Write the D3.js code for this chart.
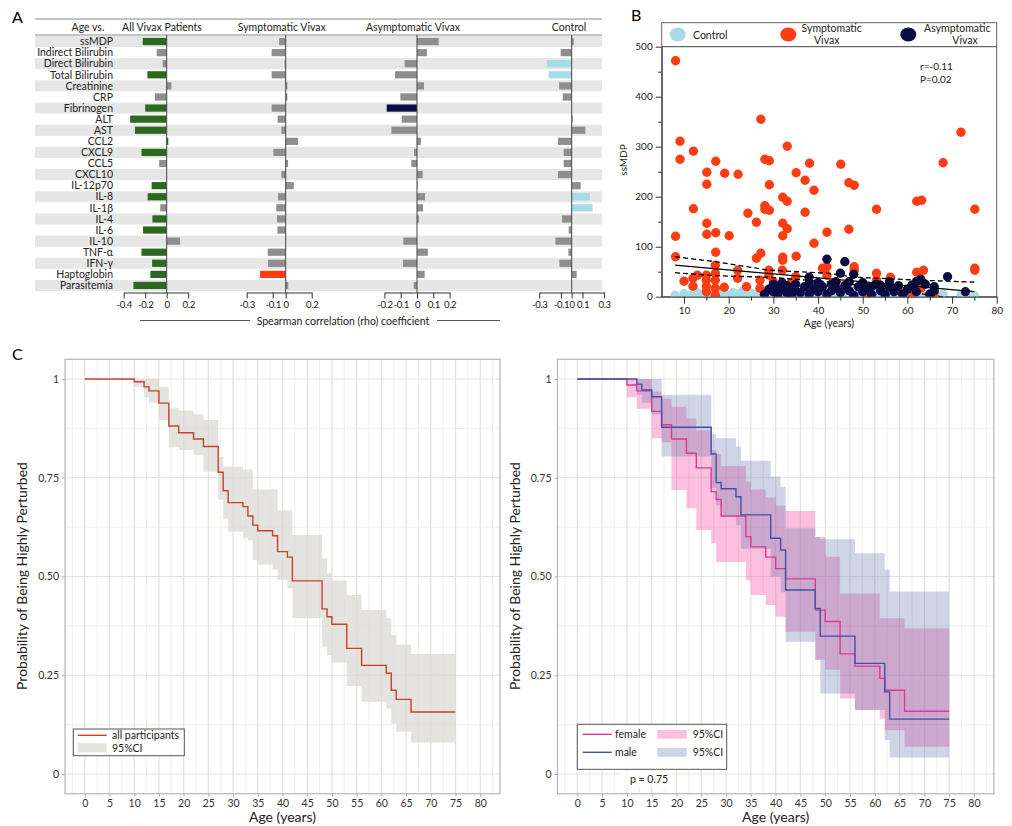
<!DOCTYPE html>
<html><head><meta charset="utf-8">
<script src="https://cdn.jsdelivr.net/npm/d3@7"></script>
<style>
body{margin:0;background:#fff;}
svg{font-family:Lato,"Open Sans",sans-serif;}
</style></head><body>
<svg id="chart" width="1012" height="826"></svg>
<script>
// ================= DATA =================
// Panel A: Spearman rho of age vs marker
const markers = ["ssMDP","Indirect Bilirubin","Direct Bilirubin","Total Bilirubin","Creatinine","CRP","Fibrinogen","ALT","AST","CCL2","CXCL9","CCL5","CXCL10","IL-12p70","IL-8","IL-1β","IL-4","IL-6","IL-10","TNF-α","IFN-γ","Haptoglobin","Parasitemia"];
const groupNames = ["All Vivax Patients","Symptomatic Vivax","Asymptomatic Vivax","Control"];
const allVivaxRho = [-0.223,-0.093,-0.037,-0.18,0.043,-0.11,-0.2,-0.34,-0.295,0.015,-0.235,-0.07,0,-0.14,-0.177,-0.06,-0.133,-0.22,0.124,-0.235,-0.136,-0.152,-0.31];
const allVivaxSig = [1,0,0,1,0,0,1,1,1,1,1,0,0,1,1,0,1,1,0,1,1,1,1];
const sympRho = [-0.051,-0.108,-0.008,-0.108,0.013,0.013,-0.108,-0.062,-0.033,0.095,-0.095,0.018,-0.033,0.062,-0.059,-0.072,-0.067,-0.064,0,-0.138,-0.136,-0.197,0.02];
const sympSig = [0,0,0,0,0,0,0,0,0,0,0,0,0,0,0,0,0,0,0,0,0,1,0];
const asympRho = [0.133,0.061,-0.076,-0.135,0.043,-0.102,-0.186,-0.094,-0.157,0.024,-0.018,-0.035,0.035,0.004,0.049,0.037,0.012,0,-0.084,0.067,-0.086,0.047,-0.02];
const asympSig = [0,0,0,0,0,0,1,0,0,0,0,0,0,0,0,0,0,0,0,0,0,0,0];
const controlRho = [0.019,-0.102,-0.23,-0.213,-0.117,-0.083,0,0.009,0.127,-0.127,-0.074,-0.074,-0.127,0.083,0.17,0.194,-0.09,-0.028,-0.151,-0.031,-0.114,0.046,0];
const controlSig = [0,0,1,1,0,0,0,0,0,0,0,0,0,0,1,1,0,0,0,0,0,0,0];
const allVivaxTicks = [-0.4,-0.2,0,0.2];
const sympTicks = [-0.3,-0.1,0,0.2];
const asympTicks = [-0.2,-0.1,0,0.1,0.2];
const controlTicks = [-0.3,-0.1,0,0.1,0.3];

// Panel B: age vs ssMDP
const controlPts = [[8,3],[10,6],[11,2],[12,5],[13,8],[14,3],[15,6],[16,2],[17,9],[18,4],[19,7],[20,3],[21,8],[22,5],[23,10],[24,3],[25,7],[26,4],[27,9],[28,5],[29,2],[30,8],[31,4],[32,10],[33,6],[34,3],[35,9],[36,5],[37,2],[38,7],[39,10],[40,4],[41,8],[42,3],[43,6],[44,9],[45,2],[46,5],[47,8],[48,3],[49,6],[50,2],[51,9],[52,4],[53,7],[54,2],[55,5],[56,8],[57,3],[58,6],[60,4],[61,7],[62,2],[63,9],[64,4],[65,6],[66,3],[68,5],[72,3],[73,6],[75,2]];
const symptomaticPts = [[8.1,472],[9.1,311],[9.1,275],[12.1,291],[12.1,176],[8.1,121],[8.1,80],[15.1,249],[15.1,225],[17.1,271],[19.1,247],[22.1,245],[15.1,147],[15.1,125],[17.1,128],[20.1,122],[17.1,89],[24.3,167],[26.2,149],[27.2,355],[28.1,275],[29.1,272],[29.1,224],[28.1,182],[28.1,175],[29.1,173],[32.1,199],[33.1,191],[33.1,301],[32.1,147],[33.1,136],[32.1,122],[35.1,248],[37.1,233],[38.1,267],[39.1,213],[37.1,169],[39.1,107],[42,129],[32.1,79],[32.1,73],[35.1,81],[26.2,77],[27.2,87],[45.1,265],[46.9,228],[48.1,223],[53.1,175],[46.9,135],[62.1,191],[63.2,193],[68,268],[72,329],[75.1,175],[75.1,57],[75.1,53],[63.6,53],[62.1,49],[48.1,60],[48.1,53],[53.1,47],[53.1,33],[56.2,39],[51,7],[61,5],[63,17],[10,31],[12,37],[12,21],[13,43],[15,43],[15,33],[15,21],[15,10],[17,63],[17,47],[17,33],[17,17],[17,3],[19,19],[22,53],[22,37],[24,20],[27,33],[27,17],[29,53],[29,43],[32,53],[35,40],[41,57],[42,43],[42,60],[30,30],[34,28],[38,22],[44,30],[46,18],[50,25],[58,12],[66,8]];
const asymptomaticPts = [[38,39],[42,75],[46,70],[45,47],[48,45],[69,40],[73,10],[63,35],[62,30],[66,20],[61,23],[56,20],[54,23],[52,20],[28,5],[29,15],[30,25],[30,10],[31,20],[31,5],[32,28],[32,15],[33,22],[33,8],[34,18],[34,3],[35,12],[35,25],[36,8],[37,20],[38,5],[38,28],[39,15],[40,10],[40,28],[41,20],[42,5],[43,25],[43,12],[44,30],[44,18],[45,8],[46,22],[47,30],[47,12],[48,3],[49,20],[50,28],[50,10],[51,18],[52,5],[53,25],[54,12],[55,5],[56,30],[57,10],[58,22],[59,5],[60,15],[62,10],[64,25],[65,5],[66,12]];
const fitAges = [8,75];
const fitVals = [63,10];
const ciAges = [8,17,29,42,48,53,63,75];
const ciUpperVals = [80,70,53,47,39,37,33,29];
const ciLowerVals = [48,42,39,30,24,19,6,-9];
const bXTicks = [10,20,30,40,50,60,70,80];
const bYTicks = [0,100,200,300,400,500];

// Panel C: Kaplan-Meier
const kmAllTimes = [0,10,12,13,15,17,19,22,24,27,28,29,32,33,34,35,38,39,41,42,48,49,50,53,56,61,62,63,66,75];
const kmAllSurv  = [1,0.993,0.98,0.97,0.939,0.881,0.864,0.848,0.829,0.764,0.717,0.687,0.677,0.653,0.63,0.616,0.603,0.563,0.549,0.489,0.418,0.398,0.379,0.318,0.275,0.255,0.212,0.189,0.157,0.157];
const kmAllUpper = [1,1,1,1,0.98,0.926,0.92,0.911,0.896,0.803,0.778,0.778,0.771,0.771,0.72,0.72,0.72,0.668,0.668,0.605,0.546,0.508,0.49,0.453,0.415,0.394,0.352,0.328,0.304,0.304];
const kmAllLower = [1,0.98,0.954,0.94,0.896,0.827,0.82,0.808,0.765,0.694,0.647,0.613,0.597,0.592,0.542,0.53,0.517,0.491,0.47,0.394,0.322,0.301,0.282,0.223,0.183,0.166,0.128,0.107,0.08,0.08];

const kmFemaleTimes = [0,10,12,15,17,19,22,24,27,28,29,34,35,38,40,42,48,50,53,56,61,62,66,75];
const kmFemaleSurv  = [1,0.985,0.97,0.918,0.884,0.848,0.812,0.775,0.715,0.695,0.653,0.601,0.575,0.549,0.52,0.494,0.415,0.386,0.304,0.273,0.242,0.212,0.159,0.159];
const kmFemaleUpper = [1,1,1,0.968,0.95,0.93,0.9,0.87,0.82,0.81,0.78,0.74,0.72,0.7,0.68,0.666,0.6,0.55,0.457,0.457,0.394,0.394,0.369,0.369];
const kmFemaleLower = [1,0.954,0.925,0.85,0.84,0.719,0.673,0.618,0.584,0.537,0.537,0.49,0.453,0.428,0.398,0.36,0.289,0.264,0.191,0.162,0.14,0.111,0.069,0.069];

const kmMaleTimes = [0,12,13,15,17,27,28,29,32,33,39,41,42,48,49,56,62,63,75];
const kmMaleSurv  = [1,0.987,0.972,0.955,0.878,0.81,0.738,0.722,0.702,0.656,0.597,0.567,0.466,0.419,0.349,0.28,0.208,0.139,0.139];
const kmMaleUpper = [1,1,1,1,0.96,0.86,0.85,0.85,0.829,0.793,0.753,0.727,0.622,0.6,0.594,0.559,0.517,0.462,0.462];
const kmMaleLower = [1,0.96,0.94,0.91,0.804,0.724,0.68,0.652,0.63,0.57,0.5,0.46,0.335,0.289,0.204,0.162,0.086,0.042,0.042];
const kmXTicks = d3.range(0,81,5);
const kmYTicks = [0,0.25,0.5,0.75,1];

// ================= DRAW =================
const svg = d3.select("#chart");
const TXT = "#222";
const FF = "Lato,'Open Sans',sans-serif";

// ---------- Panel labels
svg.append("text").attr("x",12).attr("y",23).attr("font-size",16).text("A");
svg.append("text").attr("x",631).attr("y",21).attr("font-size",16).text("B");
svg.append("text").attr("x",12).attr("y",360).attr("font-size",16).text("C");

// ---------- Panel A
const gA = svg.append("g");
const rowBand = d3.scaleBand().domain(markers).range([36,291]);
const aLeft = 35, aRight = 602;
gA.selectAll("rect.row").data(markers.filter((m,i)=>i%2===0)).join("rect")
  .attr("x",aLeft).attr("width",aRight-aLeft)
  .attr("y",d=>rowBand(d)).attr("height",rowBand.bandwidth())
  .attr("fill","#e6e6e6");
gA.append("line").attr("x1",aLeft).attr("x2",aRight).attr("y1",19).attr("y2",19).attr("stroke","#8a8a8a").attr("stroke-width",1.2);
gA.append("line").attr("x1",aLeft).attr("x2",aRight).attr("y1",35).attr("y2",35).attr("stroke","#8a8a8a").attr("stroke-width",1.2);
gA.append("text").attr("x",88).attr("y",31).attr("text-anchor","middle").attr("font-size",10.5).attr("fill",TXT).text("Age vs.");
gA.selectAll("text.lab").data(markers).join("text")
  .attr("x",113).attr("y",d=>rowBand(d)+rowBand.bandwidth()/2+3.7)
  .attr("text-anchor","end").attr("font-size",10.5).attr("fill",TXT).text(d=>d);

const groups = [
  {name:groupNames[0], vals:allVivaxRho, sig:allVivaxSig, color:"#2b6a1e", dom:[-0.4,0.2], rng:[123.7,188.2], ticks:allVivaxTicks, hx:162},
  {name:groupNames[1], vals:sympRho, sig:sympSig, color:"#ff3b10", dom:[-0.3,0.2], rng:[246.7,311.7], ticks:sympTicks, hx:281.7},
  {name:groupNames[2], vals:asympRho, sig:asympSig, color:"#0c0c48", dom:[-0.2,0.2], rng:[384.4,449.6], ticks:asympTicks, hx:413},
  {name:groupNames[3], vals:controlRho, sig:controlSig, color:"#a6dbe8", dom:[-0.3,0.3], rng:[539.3,604.1], ticks:controlTicks, hx:569}
];
groups.forEach(gr=>{
  const x = d3.scaleLinear().domain(gr.dom).range(gr.rng);
  const g = gA.append("g");
  g.append("text").attr("x",gr.hx).attr("y",31).attr("text-anchor","middle").attr("font-size",10.5).attr("fill",TXT).text(gr.name);
  const bh = 7.2;
  g.selectAll("rect").data(markers.map((m,i)=>({m,v:gr.vals[i],s:gr.sig[i]}))).join("rect")
    .attr("x",d=>Math.min(x(0),x(d.v))).attr("width",d=>Math.abs(x(d.v)-x(0)))
    .attr("y",d=>rowBand(d.m)+rowBand.bandwidth()/2-bh/2).attr("height",bh)
    .attr("fill",d=>d.s? gr.color : "#8e8e8e");
  g.append("line").attr("x1",x(0)).attr("x2",x(0)).attr("y1",35).attr("y2",292.5).attr("stroke","#444").attr("stroke-width",1);
  const ax = g.append("g").attr("transform","translate(0,292.5)")
    .call(d3.axisBottom(x).tickValues(gr.ticks).tickSize(6).tickSizeOuter(0).tickFormat(d=>d===0?"0":String(d)));
  ax.selectAll("path,line").attr("stroke","#333");
  ax.selectAll("text").attr("font-size",9.6).attr("letter-spacing","-0.4px").attr("fill",TXT).attr("font-family",FF);
});
// Spearman title
gA.append("line").attr("x1",140).attr("x2",250).attr("y1",320.5).attr("y2",320.5).attr("stroke","#555");
gA.append("line").attr("x1",437).attr("x2",500).attr("y1",320.5).attr("y2",320.5).attr("stroke","#555");
gA.append("text").attr("x",343).attr("y",324.5).attr("text-anchor","middle").attr("font-size",10.5).attr("fill",TXT).text("Spearman correlation (rho) coefficient");

// ---------- Panel B
const gB = svg.append("g");
const bx = d3.scaleLinear().domain([5,80]).range([661.7,996.7]);
const by = d3.scaleLinear().domain([0,500]).range([296.7,46.7]);
const bTop = 22.7;
gB.append("rect").attr("x",661.7).attr("y",bTop).attr("width",335).attr("height",296.7-bTop).attr("fill","none").attr("stroke","#666");
gB.append("line").attr("x1",661.7).attr("x2",996.7).attr("y1",by(500)).attr("y2",by(500)).attr("stroke","#444");
gB.append("clipPath").attr("id","bclip").append("rect").attr("x",661.7).attr("y",by(500)).attr("width",335).attr("height",by(0)-by(500));
const pts = gB.append("g").attr("clip-path","url(#bclip)");
const R = 4.7;
pts.selectAll("circle.c").data(controlPts).join("circle").attr("class","c").attr("cx",d=>bx(d[0])).attr("cy",d=>by(d[1])).attr("r",R).attr("fill","#a8dbe7");
pts.selectAll("circle.s").data(symptomaticPts).join("circle").attr("class","s").attr("cx",d=>bx(d[0])).attr("cy",d=>by(d[1])).attr("r",R).attr("fill","#ff3d12");
pts.selectAll("circle.a").data(asymptomaticPts).join("circle").attr("class","a").attr("cx",d=>bx(d[0])).attr("cy",d=>by(d[1])).attr("r",R).attr("fill","#0c0c45");
const bl = d3.line().x(d=>bx(d[0])).y(d=>by(d[1]));
pts.append("path").attr("d",bl(fitAges.map((a,i)=>[a,fitVals[i]]))).attr("stroke","#000").attr("stroke-width",1.3).attr("fill","none");
pts.append("path").attr("d",bl(ciAges.map((a,i)=>[a,ciUpperVals[i]]))).attr("stroke","#000").attr("stroke-width",1.3).attr("stroke-dasharray","5,3").attr("fill","none");
pts.append("path").attr("d",bl(ciAges.map((a,i)=>[a,ciLowerVals[i]]))).attr("stroke","#000").attr("stroke-width",1.3).attr("stroke-dasharray","5,3").attr("fill","none");
gB.append("g").attr("transform","translate(661.7,0)")
  .call(d3.axisLeft(by).tickValues(bYTicks).tickSize(6).tickSizeOuter(0));
gB.append("g").attr("transform","translate(661.7,0)")
  .call(d3.axisLeft(by).tickValues(d3.range(50,500,100)).tickSize(3.5).tickFormat("")).select("path").remove();
gB.append("g").attr("transform","translate(0,296.7)")
  .call(d3.axisBottom(bx).tickValues(bXTicks).tickSize(7).tickPadding(3).tickSizeOuter(0));
gB.append("g").attr("transform","translate(0,296.7)")
  .call(d3.axisBottom(bx).tickValues(d3.range(15,80,10)).tickSize(4).tickFormat("")).select("path").remove();
gB.selectAll(".tick text").attr("font-size",10).attr("fill",TXT).attr("font-family",FF);
gB.selectAll(".domain,.tick line").attr("stroke","#333");
gB.append("text").attr("transform","translate(627,160) rotate(-90)").attr("text-anchor","middle").attr("font-size",10).attr("fill",TXT).text("ssMDP");
gB.append("text").attr("x",829).attr("y",327).attr("text-anchor","middle").attr("font-size",10.5).attr("fill",TXT).text("Age (years)");
gB.append("text").attr("x",920).attr("y",70).attr("font-size",10).attr("fill",TXT).text("r=-0.11");
gB.append("text").attr("x",920).attr("y",83).attr("font-size",10).attr("fill",TXT).text("P=0.02");
// legend B
const legB = [
  {cx:677.7, color:"#a8dbe7"},
  {cx:788.3, color:"#ff3d12"},
  {cx:908.3, color:"#0c0c45"}
];
gB.selectAll("ellipse").data(legB).join("ellipse").attr("cx",d=>d.cx).attr("cy",34.5).attr("rx",8).attr("ry",7).attr("fill",d=>d.color);
gB.append("text").attr("x",693).attr("y",39).attr("font-size",10.5).attr("fill",TXT).text("Control");
gB.append("text").attr("x",831.7).attr("y",31.5).attr("text-anchor","middle").attr("font-size",10.5).attr("fill",TXT).text("Symptomatic");
gB.append("text").attr("x",826.7).attr("y",44).attr("text-anchor","middle").attr("font-size",10.5).attr("fill",TXT).text("Vivax");
gB.append("text").attr("x",957.3).attr("y",31.5).attr("text-anchor","middle").attr("font-size",10.5).attr("fill",TXT).text("Asymptomatic");
gB.append("text").attr("x",965).attr("y",44).attr("text-anchor","middle").attr("font-size",10.5).attr("fill",TXT).text("Vivax");

// ---------- Panel C
function kmPanel(left, right){
  const g = svg.append("g");
  const x = d3.scaleLinear().domain([-4,84]).range([left,right]);
  const y = d3.scaleLinear().domain([-0.05,1.05]).range([793.75,359.25]);
  const grid = g.append("g");
  const minorX = d3.range(-2.5,84,5);
  const minorY = [0.125,0.375,0.625,0.875];
  grid.selectAll("line.mx").data(minorX).join("line").attr("x1",d=>x(d)).attr("x2",d=>x(d)).attr("y1",y(1.05)).attr("y2",y(-0.05)).attr("stroke","#ecebe6").attr("stroke-width",0.8);
  grid.selectAll("line.my").data(minorY).join("line").attr("y1",d=>y(d)).attr("y2",d=>y(d)).attr("x1",left).attr("x2",right).attr("stroke","#ecebe6").attr("stroke-width",0.8);
  grid.selectAll("line.Mx").data(kmXTicks).join("line").attr("x1",d=>x(d)).attr("x2",d=>x(d)).attr("y1",y(1.05)).attr("y2",y(-0.05)).attr("stroke","#e4e2dc").attr("stroke-width",1.2);
  grid.selectAll("line.My").data(kmYTicks).join("line").attr("y1",d=>y(d)).attr("y2",d=>y(d)).attr("x1",left).attr("x2",right).attr("stroke","#e4e2dc").attr("stroke-width",1.2);
  const xa = g.append("g").attr("transform",`translate(0,${y(-0.05)})`).call(d3.axisBottom(x).tickValues(kmXTicks).tickSize(3).tickSizeOuter(0));
  const ya = g.append("g").attr("transform",`translate(${left},0)`).call(d3.axisLeft(y).tickValues(kmYTicks).tickSize(3).tickSizeOuter(0).tickFormat(d=>d===0?"0":d===1?"1":d3.format(".2f")(d)));
  [xa,ya].forEach(a=>{a.select(".domain").remove(); a.selectAll("line").attr("stroke","#aaa");
    a.selectAll("text").attr("font-size",10.5).attr("fill","#333").attr("font-family",FF);});
  g.append("rect").attr("x",left).attr("y",y(1.05)).attr("width",right-left).attr("height",y(-0.05)-y(1.05)).attr("fill","none").attr("stroke","#b5b5b5").attr("stroke-width",1.2);
  g.append("text").attr("x",(left+right)/2).attr("y",822).attr("text-anchor","middle").attr("font-size",14).attr("fill","#222").text("Age (years)");
  g.append("text").attr("transform",`translate(${left-38},576) rotate(-90)`).attr("text-anchor","middle").attr("font-size",14).attr("fill","#222").text("Probability of Being Highly Perturbed");
  return {g,x,y};
}
function kmDraw(p, times, surv, lo, hi, lineColor, fill, fillOp){
  const area = d3.area().curve(d3.curveStepAfter).x(d=>p.x(d.t)).y0(d=>p.y(d.lo)).y1(d=>p.y(d.hi));
  const rows = times.map((t,i)=>({t,s:surv[i],lo:lo[i],hi:hi[i]}));
  p.g.append("path").attr("d",area(rows)).attr("fill",fill).attr("fill-opacity",fillOp);
  return ()=>{
    const line = d3.line().curve(d3.curveStepAfter).x(d=>p.x(d.t)).y(d=>p.y(d.s));
    p.g.append("path").attr("d",line(rows)).attr("fill","none").attr("stroke",lineColor).attr("stroke-width",1.4);
  };
}
// left
const pL = kmPanel(65,500);
kmDraw(pL, kmAllTimes, kmAllSurv, kmAllLower, kmAllUpper, "#c4432f", "#dcdad4", 0.75)();
pL.g.append("rect").attr("x",73.3).attr("y",729).attr("width",111).attr("height",26.7).attr("fill","#fff").attr("stroke","#555");
pL.g.append("line").attr("x1",77.7).attr("x2",106.7).attr("y1",735.3).attr("y2",735.3).attr("stroke","#c4432f").attr("stroke-width",1.4);
pL.g.append("rect").attr("x",77.7).attr("y",743.3).attr("width",29).attr("height",9).attr("fill","#e5e3de");
pL.g.append("text").attr("x",112).attr("y",739).attr("font-size",10.5).attr("fill","#222").text("all participants");
pL.g.append("text").attr("x",112).attr("y",751.5).attr("font-size",10.5).attr("fill","#222").text("95%CI");
// right
const pR = kmPanel(557.5,993.8);
const drawF = kmDraw(pR, kmFemaleTimes, kmFemaleSurv, kmFemaleLower, kmFemaleUpper, "#dc3a92", "#f45fae", 0.4);
const drawM = kmDraw(pR, kmMaleTimes, kmMaleSurv, kmMaleLower, kmMaleUpper, "#4350a3", "#5f73ac", 0.3);
drawF(); drawM();
pR.g.append("rect").attr("x",577.3).attr("y",724.3).attr("width",149.4).attr("height",45).attr("fill","#fff").attr("stroke","#555");
pR.g.append("line").attr("x1",582.7).attr("x2",611.7).attr("y1",734.3).attr("y2",734.3).attr("stroke","#dc3a92").attr("stroke-width",1.4);
pR.g.append("line").attr("x1",582.7).attr("x2",611.7).attr("y1",752.3).attr("y2",752.3).attr("stroke","#4350a3").attr("stroke-width",1.4);
pR.g.append("rect").attr("x",657.3).attr("y",730).attr("width",29.4).attr("height",8.7).attr("fill","#f9bfdf");
pR.g.append("rect").attr("x",657.3).attr("y",748).attr("width",29.4).attr("height",8.7).attr("fill","#cfd5e6");
pR.g.append("text").attr("x",615).attr("y",738).attr("font-size",10.5).attr("fill","#222").text("female");
pR.g.append("text").attr("x",615).attr("y",756).attr("font-size",10.5).attr("fill","#222").text("male");
pR.g.append("text").attr("x",692.7).attr("y",738).attr("font-size",10.5).attr("fill","#222").text("95%CI");
pR.g.append("text").attr("x",692.7).attr("y",756).attr("font-size",10.5).attr("fill","#222").text("95%CI");
pR.g.append("rect").attr("x",620).attr("y",771).attr("width",52).attr("height",16).attr("fill","#fff");
pR.g.append("text").attr("x",630).attr("y",783).attr("font-size",10.5).attr("fill","#222").text("p = 0.75");
</script>
</body></html>
